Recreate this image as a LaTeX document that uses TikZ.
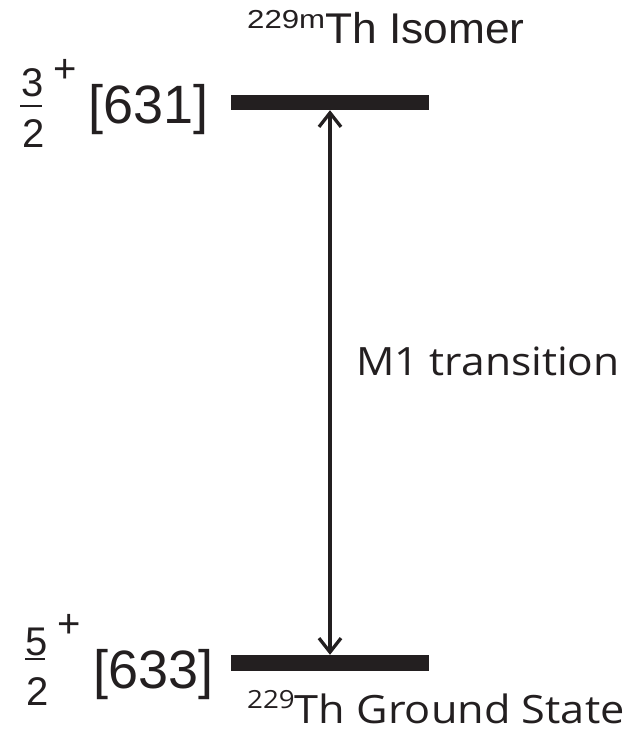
\documentclass[tikz,border=0pt]{standalone}
\usepackage{fontspec}
\setmainfont{Liberation Sans}
\newfontfamily\labelfont{Open Sans}
\usetikzlibrary{arrows.meta}
\definecolor{ink}{RGB}{35,31,32}
\newcommand{\fs}[1]{\fontsize{#1}{#1}\selectfont}
\begin{document}
\begin{tikzpicture}[x=1pt,y=-1pt,
  level/.style={fill=ink,draw=none,inner sep=0pt,minimum width=198pt},
  txt/.style={inner sep=0pt,text=ink},
  transition/.style={draw=ink,line width=3.3pt,{Straight Barb[length=14pt,width=22pt]}-{Straight Barb[length=14pt,width=22pt]}},
  fracbar/.style={draw=ink,line width=1.8pt}]
\useasboundingbox (0,0) rectangle (633,738);

% energy levels
\node[level,minimum height=15pt] (upper) at (330,102.5) {};
\node[level,minimum height=16pt] (lower) at (330,663) {};

% M1 transition between the two levels
\draw[transition] (upper.south) -- (lower.north);
\node[txt,anchor=base west] (m1) at (356,375) {\labelfont\fs{39}\scalebox{1.09}[1]{M1 transition}};

% state names
\node[txt,anchor=base west] (isomer) at (247,44)
  {\scalebox{1.2}[1]{\fs{26}\raisebox{15pt}{229m}}\scalebox{1.03}[1]{\fs{43}Th Isomer}};
\node[txt,anchor=base west] (ground) at (247,723)
  {\labelfont\scalebox{1.11}[1]{\fs{25}\raisebox{15pt}{229}\fs{39}Th Ground State}};

% spin-parity and Nilsson labels, isomer
\node[txt,anchor=base] (num1) at (33,97) {\fs{40}3};
\node[txt,anchor=base] (den1) at (34,148) {\fs{40}2};
\draw[fracbar] (20,106) -- (42,106);
\node[txt,anchor=base] (par1) at (65,83) {\fs{40}+};
\node[txt,anchor=base west] (nil1) at (88,124) {\fs{54}[631]};

% spin-parity and Nilsson labels, ground state
\node[txt,anchor=base] (num2) at (37,655) {\fs{40}5};
\node[txt,anchor=base] (den2) at (38,705) {\fs{40}2};
\draw[fracbar] (25,659) -- (45,659);
\node[txt,anchor=base] (par2) at (69,637) {\fs{40}+};
\node[txt,anchor=base west] (nil2) at (93,688) {\fs{54}[633]};
\end{tikzpicture}
\end{document}
